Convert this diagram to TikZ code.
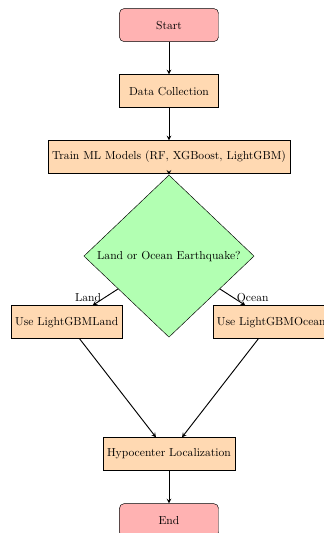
\documentclass[tikz,border=0pt]{standalone}
\usepackage{tikz}
\usetikzlibrary{arrows,positioning,shapes.geometric}
\tikzset{%
	terminal/.style = {draw, rectangle, rounded corners, minimum width=3cm, minimum height=1cm, text centered, fill=red!30},
	task/.style     = {draw, rectangle, minimum width=3cm, minimum height=1cm, text centered, fill=orange!30},
	choice/.style   = {draw, diamond, aspect=1.05, text centered, fill=green!30},
	flow/.style     = {thick,->,>=stealth},
}

\begin{document}
\begin{tikzpicture}[node distance=2cm]
	\useasboundingbox (-5.12,0.76) rectangle (4.67,-15.39);
	\node [terminal] (start) {Start};
	\node [task] (data) [below of=start] {Data Collection};
	\node [task] (train) [below of=data] {Train ML Models (RF, XGBoost, LightGBM)};
	\node [choice] (quake) [below of=train,node distance=3cm] {Land or Ocean Earthquake?};
	\node [task] (land) [below of=quake,xshift=-3.1cm] {Use LightGBMLand};
	\node [task] (ocean) [below of=quake,xshift=3.1cm] {Use LightGBMOcean};
	\node [task] (hypo) [below of=quake,node distance=6cm] {Hypocenter Localization};
	\node [terminal] (end) [below of=hypo] {End};
	
	\draw [flow] (start) -- (data);
	\draw [flow] (data) -- (train);
	\draw [flow] (train) -- (quake);
	\draw [flow] (quake) -- node[left] {Land} (land);
	\draw [flow] (quake) -- node[right] {Ocean} (ocean);
	\draw [flow] (land) -- (hypo);
	\draw [flow] (ocean) -- (hypo);
	\draw [flow] (hypo) -- (end);
	
\end{tikzpicture}
\end{document}
